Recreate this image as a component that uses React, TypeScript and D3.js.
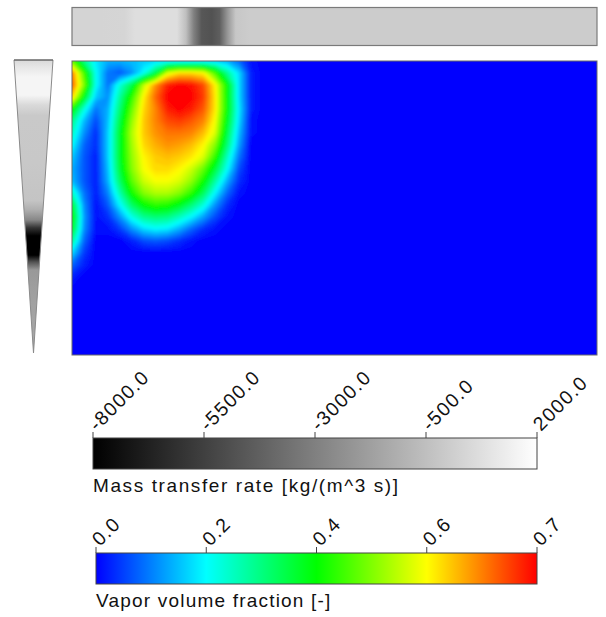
import React from "react";
import * as d3 from "d3";

// vapor volume fraction, sampled on a grid (rows from top, cols from the inlet side)
// grid step: 1/44 of the length and 1/24.5 of the height, beyond the last column it is 0
const GRID_STEP_X = 1 / 44;
const GRID_STEP_Y = 1 / 24.5;
const vaporGrid = [
  [0.42, 0.26, 0.16, 0.12, 0.12, 0.13, 0.14, 0.15, 0.15, 0.15, 0.15, 0.15, 0.14, 0.12, 0.07, 0.01, 0],
  [0.62, 0.4, 0.18, 0.08, 0.06, 0.1, 0.18, 0.3, 0.5, 0.55, 0.55, 0.53, 0.4, 0.25, 0.15, 0.02, 0],
  [0.64, 0.44, 0.18, 0.08, 0.2, 0.3, 0.48, 0.6, 0.68, 0.7, 0.69, 0.65, 0.53, 0.35, 0.15, 0.02, 0],
  [0.56, 0.34, 0.14, 0.1, 0.24, 0.38, 0.53, 0.63, 0.7, 0.72, 0.7, 0.66, 0.54, 0.35, 0.15, 0.02, 0],
  [0.36, 0.2, 0.08, 0.12, 0.27, 0.42, 0.55, 0.61, 0.68, 0.7, 0.68, 0.64, 0.54, 0.35, 0.16, 0.02, 0],
  [0.26, 0.13, 0.05, 0.13, 0.3, 0.45, 0.56, 0.61, 0.65, 0.66, 0.64, 0.61, 0.52, 0.33, 0.15, 0.01, 0],
  [0.22, 0.1, 0.03, 0.14, 0.32, 0.47, 0.56, 0.6, 0.62, 0.62, 0.61, 0.57, 0.5, 0.3, 0.13, 0.01, 0],
  [0.18, 0.07, 0.03, 0.14, 0.32, 0.46, 0.55, 0.58, 0.6, 0.59, 0.57, 0.53, 0.44, 0.27, 0.11, 0, 0],
  [0.14, 0.06, 0.02, 0.14, 0.32, 0.45, 0.53, 0.56, 0.57, 0.56, 0.54, 0.5, 0.38, 0.22, 0.08, 0, 0],
  [0.12, 0.06, 0.02, 0.13, 0.31, 0.44, 0.52, 0.55, 0.55, 0.53, 0.49, 0.42, 0.31, 0.18, 0.05, 0, 0],
  [0.13, 0.06, 0.02, 0.12, 0.28, 0.41, 0.49, 0.52, 0.52, 0.5, 0.45, 0.36, 0.24, 0.12, 0.03, 0, 0],
  [0.22, 0.08, 0.02, 0.09, 0.23, 0.36, 0.44, 0.47, 0.47, 0.44, 0.38, 0.29, 0.17, 0.07, 0.01, 0, 0],
  [0.32, 0.1, 0.01, 0.06, 0.17, 0.28, 0.35, 0.38, 0.37, 0.33, 0.27, 0.2, 0.1, 0.03, 0, 0, 0],
  [0.36, 0.11, 0.01, 0.03, 0.1, 0.19, 0.25, 0.27, 0.26, 0.22, 0.17, 0.11, 0.05, 0.01, 0, 0, 0],
  [0.33, 0.1, 0.01, 0.01, 0.04, 0.1, 0.15, 0.17, 0.16, 0.12, 0.07, 0.03, 0.01, 0, 0, 0, 0],
  [0.25, 0.07, 0, 0, 0, 0.02, 0.05, 0.06, 0.05, 0.03, 0.01, 0, 0, 0, 0, 0, 0],
  [0.15, 0.04, 0, 0, 0, 0, 0, 0, 0, 0, 0, 0, 0, 0, 0, 0, 0],
  [0.07, 0.02, 0, 0, 0, 0, 0, 0, 0, 0, 0, 0, 0, 0, 0, 0, 0],
  [0.02, 0, 0, 0, 0, 0, 0, 0, 0, 0, 0, 0, 0, 0, 0, 0, 0],
  [0, 0, 0, 0, 0, 0, 0, 0, 0, 0, 0, 0, 0, 0, 0, 0, 0],
];

// mass transfer rate profile along the length (top strip)
const axialPos = [0, 0.053, 0.1, 0.12, 0.2, 0.217, 0.232, 0.247, 0.266, 0.281, 0.297, 0.312, 0.338, 1];
const axialRate = [300, 300, 350, 700, 700, -500, -3000, -4600, -4800, -4300, -2000, -200, 0, 0];

// mass transfer rate profile along the height (left wedge)
const heightPos = [0, 0.027, 0.058, 0.12, 0.154, 0.19, 0.35, 0.48, 0.51, 0.546, 0.573, 0.6, 0.666, 0.69, 0.717, 0.82, 1];
const heightRate = [500, 1100, 1600, 1600, 500, -100, -150, -300, -1100, -2700, -6000, -8000, -8000, -4700, -2000, -1700, -1400];

const massTicks = [-8000, -5500, -3000, -500, 2000];
const vaporTicks = ["0.0", "0.2", "0.4", "0.6", "0.7"];
const vaporStops = [0, 0.175, 0.35, 0.525, 0.7];
const jetColors = ["#0000ff", "#00ffff", "#00ff00", "#ffff00", "#ff0000"];

const W = 606,
  H = 617;
const font = "'Liberation Sans', Arial, sans-serif";

export default function App() {
  const plot = { x0: 72, x1: 597, y0: 61, y1: 355 };
  const xScale = d3.scaleLinear().domain([0, 1]).range([plot.x0, plot.x1]);
  const yScale = d3.scaleLinear().domain([0, 1]).range([plot.y0, plot.y1]);

  const gray = d3
    .scaleLinear<string>()
    .domain([-8000, 2000])
    .range(["#000000", "#ffffff"])
    .clamp(true);
  const jet = d3
    .scaleLinear<string>()
    .domain(vaporStops)
    .range(jetColors)
    .clamp(true);

  // contours of the vapor field
  const nx = vaporGrid[0].length,
    ny = vaporGrid.length;
  const thresholds = d3.range(0.005, 0.72, 0.01);
  const contours = d3
    .contours()
    .size([nx, ny])
    .thresholds(thresholds)(vaporGrid.flat());
  const proj = d3.geoTransform({
    point: function (x, y) {
      this.stream.point(
        xScale((x - 0.5) * GRID_STEP_X),
        yScale((y - 0.5) * GRID_STEP_Y)
      );
    },
  });
  const path = d3.geoPath(proj);

  // colour bars
  const massScale = d3.scaleLinear().domain([-8000, 2000]).range([93, 537]);
  const massBar = { y0: 438, y1: 469 };
  const vaporScale = d3.scalePoint().domain(vaporTicks).range([96, 537]);
  const vaporBar = { y0: 553, y1: 584 };

  return (
    <svg
      width={W}
      height={H}
      style={{ position: "absolute", left: 0, top: 0, background: "#fff" }}
      fontFamily={font}
    >
      <defs>
        <linearGradient id="axial" x1="0" x2="1" y1="0" y2="0">
          {axialPos.map((p, i) => (
            <stop key={i} offset={p} stopColor={gray(axialRate[i])} />
          ))}
        </linearGradient>
        <linearGradient id="height" x1="0" x2="0" y1="0" y2="1">
          {heightPos.map((p, i) => (
            <stop key={i} offset={p} stopColor={gray(heightRate[i])} />
          ))}
        </linearGradient>
        <linearGradient id="massbar" x1="0" x2="1" y1="0" y2="0">
          {massTicks.map((t, i) => (
            <stop
              key={i}
              offset={(massScale(t) - 93) / (537 - 93)}
              stopColor={gray(t)}
            />
          ))}
        </linearGradient>
        <linearGradient id="vaporbar" x1="0" x2="1" y1="0" y2="0">
          {vaporStops.map((v, i) => (
            <stop key={i} offset={v / 0.7} stopColor={jet(v)} />
          ))}
        </linearGradient>
        <clipPath id="plotclip">
          <rect
            x={plot.x0}
            y={plot.y0}
            width={plot.x1 - plot.x0}
            height={plot.y1 - plot.y0}
          />
        </clipPath>
        <filter id="soft" x="-5%" y="-5%" width="110%" height="110%">
          <feGaussianBlur stdDeviation="1.5" />
        </filter>
      </defs>

      {/* top strip */}
      <rect
        x={xScale(0)}
        y={7.5}
        width={xScale(1) - xScale(0)}
        height={38}
        fill="url(#axial)"
        stroke="#7a7a7a"
        strokeWidth={1.2}
      />

      {/* left wedge */}
      <polygon
        points={`14,60 53,60 33.5,353`}
        fill="url(#height)"
        stroke="#8a8a8a"
        strokeWidth={1}
      />
      <line x1={14} x2={53} y1={60} y2={60} stroke="#555" />

      {/* contour field */}
      <rect
        x={plot.x0}
        y={plot.y0}
        width={plot.x1 - plot.x0}
        height={plot.y1 - plot.y0}
        fill={jet(0)}
      />
      <g clipPath="url(#plotclip)">
        <g filter="url(#soft)">
          {contours.map((c, i) => (
            <path key={i} d={path(c) || ""} fill={jet(c.value + 0.005)} />
          ))}
        </g>
      </g>
      <rect
        x={plot.x0}
        y={plot.y0}
        width={plot.x1 - plot.x0}
        height={plot.y1 - plot.y0}
        fill="none"
        stroke="#6a6a6a"
        strokeWidth={1}
      />

      {/* mass transfer colour bar */}
      <rect
        x={massScale(-8000)}
        y={massBar.y0}
        width={massScale(2000) - massScale(-8000)}
        height={massBar.y1 - massBar.y0}
        fill="url(#massbar)"
        stroke="#444"
        strokeWidth={1}
      />
      {massTicks.map((t) => (
        <g key={t} transform={`translate(${massScale(t)},${massBar.y0})`}>
          <line y1={0} y2={-6} stroke="#444" />
          <text
            transform="translate(4,-6) rotate(-45)"
            fontSize={19.5}
            letterSpacing={1.4}
            fill="#111"
          >
            {t.toFixed(1)}
          </text>
        </g>
      ))}
      <text x={93} y={492} fontSize={19} letterSpacing={1.6} fill="#111">
        Mass transfer rate [kg/(m^3 s)]
      </text>

      {/* vapor colour bar */}
      <rect
        x={vaporScale("0.0")}
        y={vaporBar.y0}
        width={(vaporScale("0.7") as number) - (vaporScale("0.0") as number)}
        height={vaporBar.y1 - vaporBar.y0}
        fill="url(#vaporbar)"
        stroke="#444"
        strokeWidth={1}
      />
      {vaporTicks.map((t) => (
        <g
          key={t}
          transform={`translate(${vaporScale(t)},${vaporBar.y0})`}
        >
          <line y1={0} y2={-6} stroke="#444" />
          <text
            transform="translate(4,-6) rotate(-45)"
            fontSize={19.5}
            letterSpacing={1.2}
            fill="#111"
          >
            {t}
          </text>
        </g>
      ))}
      <text x={96} y={607} fontSize={19} letterSpacing={1.2} fill="#111">
        Vapor volume fraction [-]
      </text>
    </svg>
  );
}
